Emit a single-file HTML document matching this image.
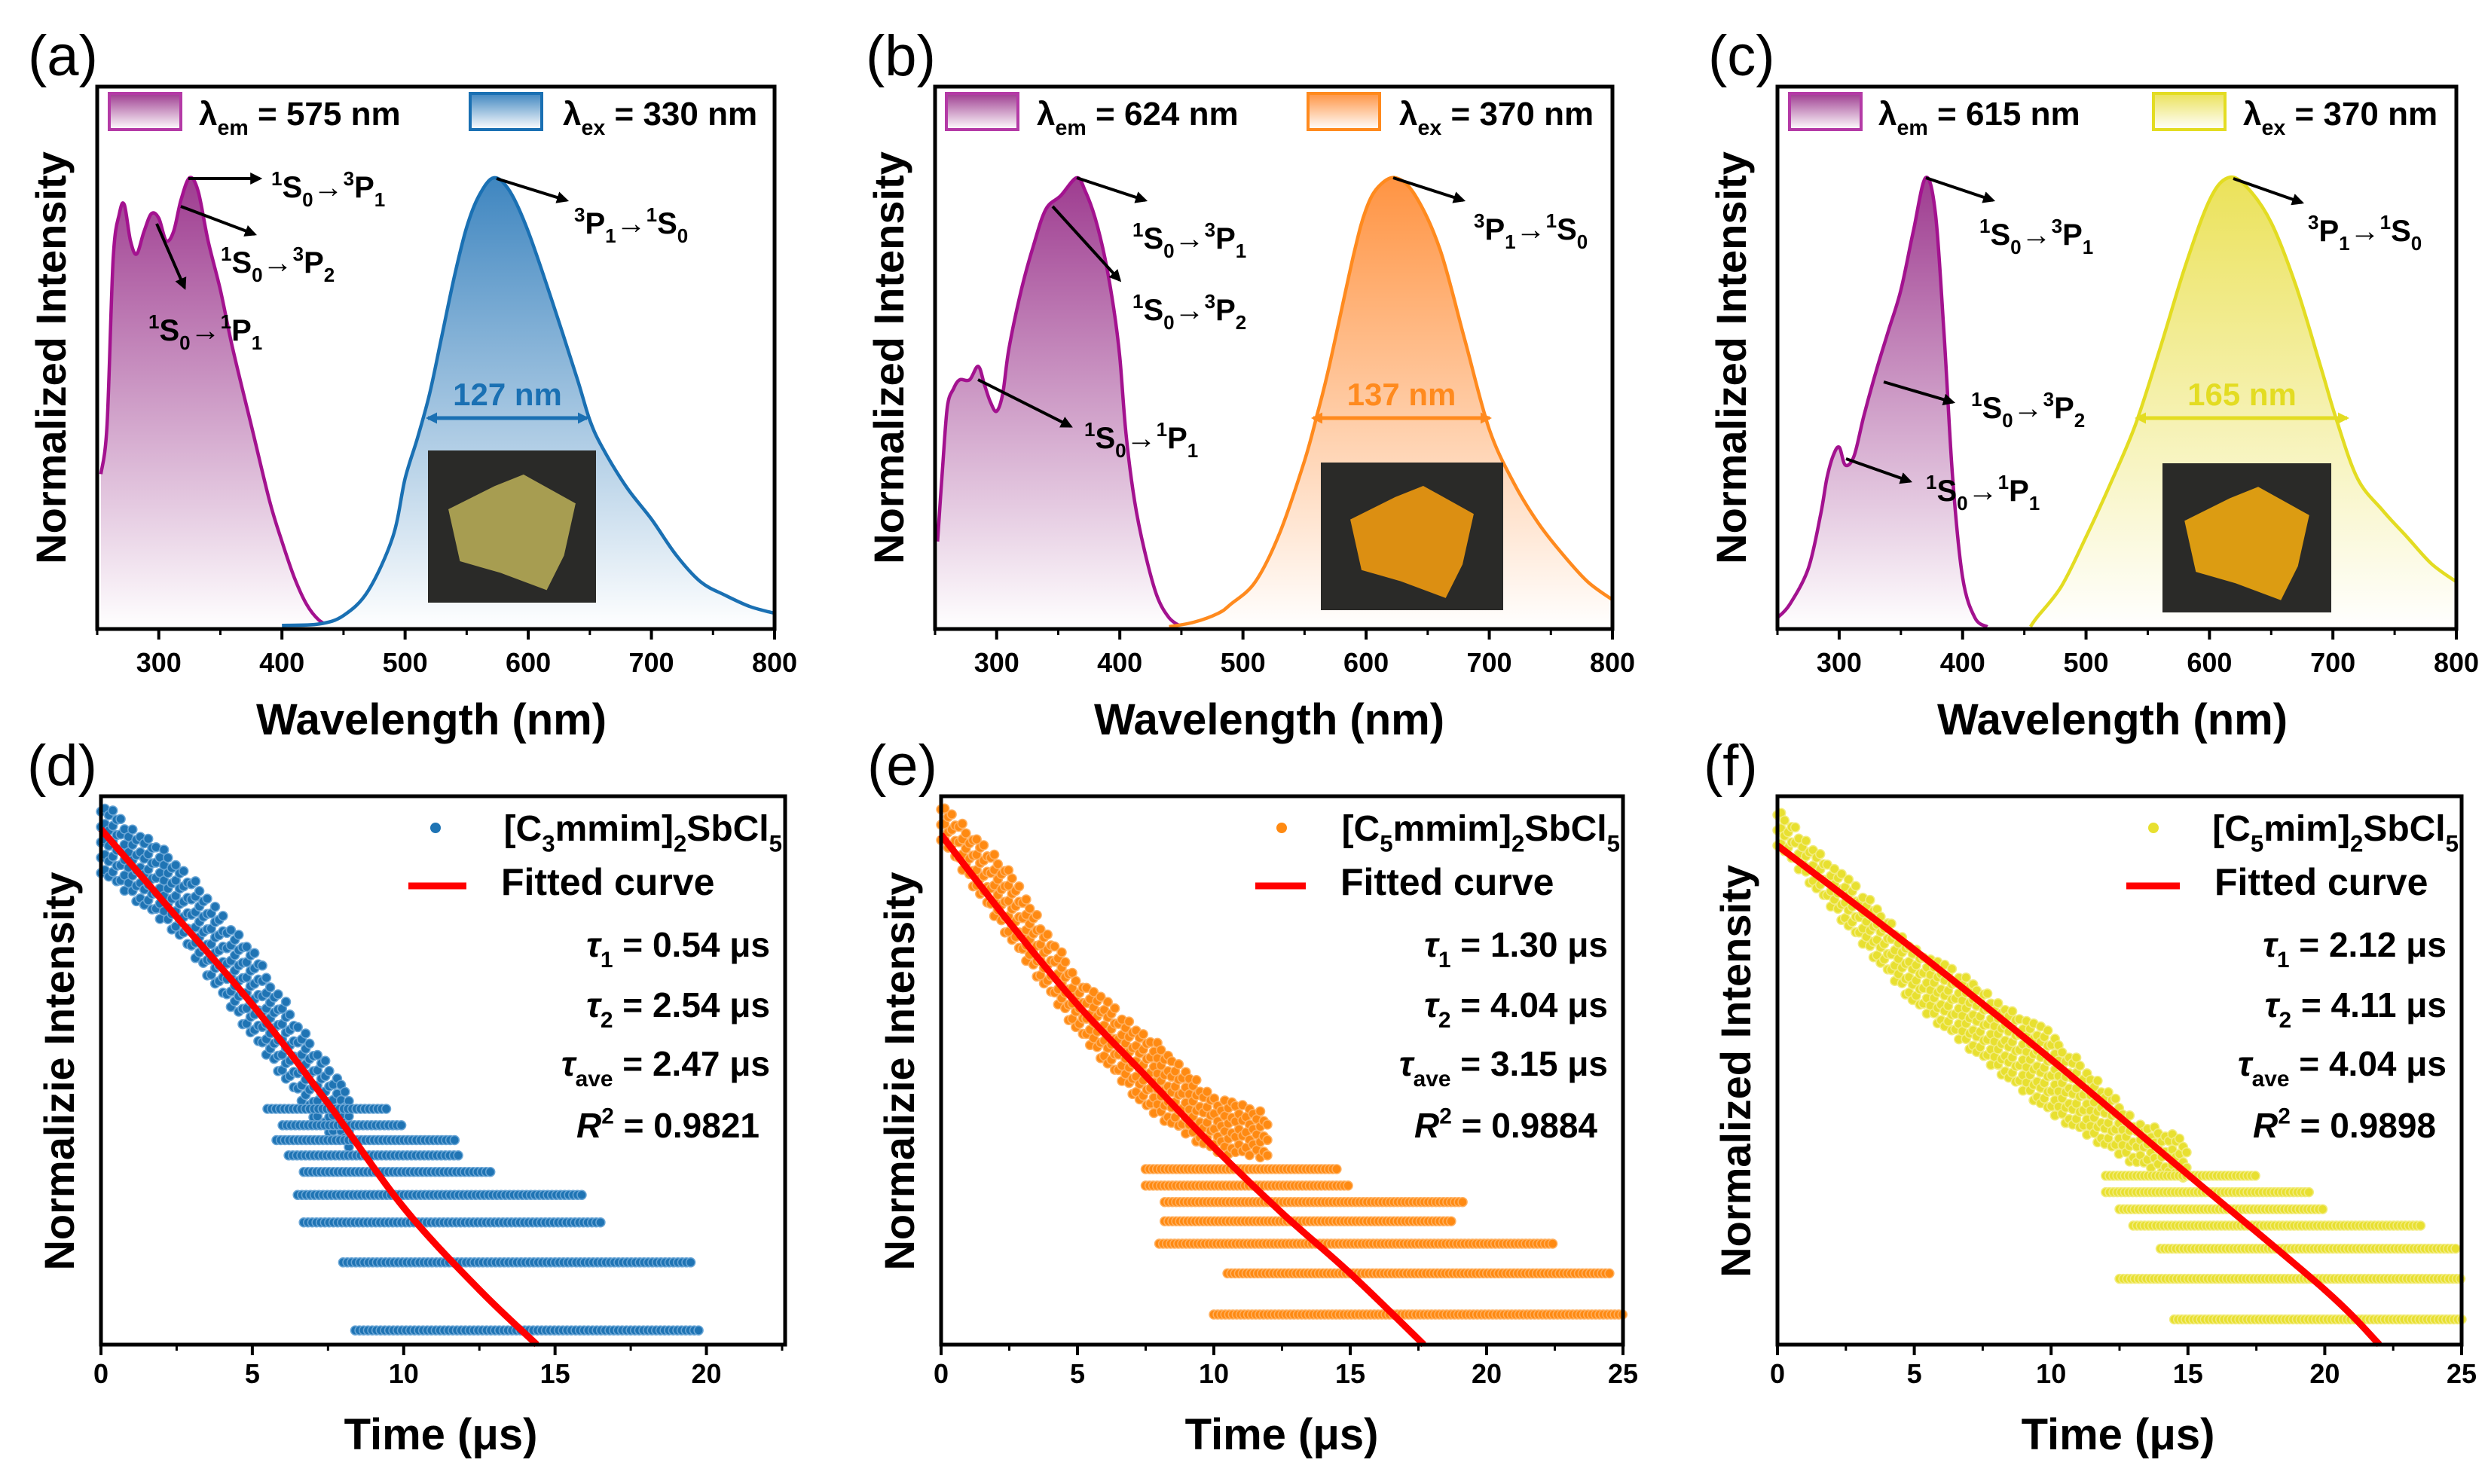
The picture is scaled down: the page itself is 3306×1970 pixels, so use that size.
<!DOCTYPE html>
<html><head><meta charset="utf-8"><style>
html,body{margin:0;padding:0;background:#fff;}
svg{display:block;font-family:"Liberation Sans",Arial,sans-serif;}
</style></head><body>
<svg id="fig" xmlns="http://www.w3.org/2000/svg" width="3306" height="1970" viewBox="0 0 3306 1970">
<defs>
<linearGradient id="gPur" gradientUnits="userSpaceOnUse" x1="0" y1="236" x2="0" y2="835"><stop offset="0" stop-color="#9e3c90"/><stop offset="1" stop-color="#ffffff"/></linearGradient>
<linearGradient id="gBlu" gradientUnits="userSpaceOnUse" x1="0" y1="236" x2="0" y2="835"><stop offset="0" stop-color="#3f86c0"/><stop offset="1" stop-color="#ffffff"/></linearGradient>
<linearGradient id="gOra" gradientUnits="userSpaceOnUse" x1="0" y1="236" x2="0" y2="835"><stop offset="0" stop-color="#ff9443"/><stop offset="1" stop-color="#ffffff"/></linearGradient>
<linearGradient id="gYel" gradientUnits="userSpaceOnUse" x1="0" y1="236" x2="0" y2="835"><stop offset="0" stop-color="#ebe25a"/><stop offset="1" stop-color="#ffffff"/></linearGradient>
<linearGradient id="lPur" x1="0" y1="0" x2="0" y2="1"><stop offset="0" stop-color="#9e3c90"/><stop offset="1" stop-color="#ffffff"/></linearGradient>
<linearGradient id="lBlu" x1="0" y1="0" x2="0" y2="1"><stop offset="0" stop-color="#3f86c0"/><stop offset="1" stop-color="#ffffff"/></linearGradient>
<linearGradient id="lOra" x1="0" y1="0" x2="0" y2="1"><stop offset="0" stop-color="#ff9443"/><stop offset="1" stop-color="#ffffff"/></linearGradient>
<linearGradient id="lYel" x1="0" y1="0" x2="0" y2="1"><stop offset="0" stop-color="#ebe25a"/><stop offset="1" stop-color="#ffffff"/></linearGradient>
<marker id="arr" viewBox="0 0 10 10" refX="8" refY="5" markerWidth="4" markerHeight="4" orient="auto"><path d="M0,0 L10,5 L0,10 z" fill="#000"/></marker>
<marker id="arrB" viewBox="0 0 10 10" refX="8" refY="5" markerWidth="3" markerHeight="3" orient="auto-start-reverse"><path d="M0,0 L10,5 L0,10 z" fill="context-stroke"/></marker>
</defs>
</svg>
<script>
// ---------- data: spectra ----------
const aEmX=[253,258,263,268,272,277,282,288,294,300,306,312,318,325,332,340,350,360,375,390,400,410,420,430,440];
const aEmY=[0.34,0.45,0.82,0.92,0.94,0.86,0.83,0.88,0.92,0.91,0.86,0.88,0.95,1.0,0.97,0.86,0.75,0.62,0.45,0.28,0.19,0.11,0.05,0.015,0.0];
const aExX=[400,430,450,470,490,500,510,520,530,540,550,560,572,585,600,620,640,650,660,680,700,720,740,760,780,800];
const aExY=[0.003,0.006,0.025,0.08,0.2,0.33,0.42,0.52,0.65,0.78,0.89,0.96,1.0,0.97,0.88,0.72,0.55,0.46,0.4,0.31,0.24,0.16,0.1,0.07,0.045,0.03];
const bEmX=[252,256,260,265,270,278,285,290,295,300,305,310,320,330,340,352,365,372,380,388,395,400,405,412,420,430,440,450];
const bEmY=[0.19,0.35,0.49,0.53,0.55,0.55,0.58,0.54,0.5,0.48,0.52,0.62,0.75,0.85,0.93,0.96,1.0,0.97,0.91,0.82,0.71,0.6,0.43,0.28,0.17,0.07,0.02,0.0];
const bExX=[440,460,480,490,510,530,550,560,570,590,600,610,624,640,660,680,700,720,740,760,780,800];
const bExY=[0.0,0.01,0.03,0.05,0.1,0.21,0.37,0.47,0.58,0.83,0.93,0.98,1.0,0.96,0.84,0.64,0.44,0.32,0.23,0.16,0.1,0.06];
const cEmX=[250,260,275,285,290,295,300,305,312,320,330,340,350,360,370,378,385,392,400,410,420];
const cEmY=[0.02,0.05,0.13,0.25,0.33,0.38,0.40,0.36,0.38,0.47,0.57,0.66,0.75,0.88,1.0,0.92,0.65,0.33,0.11,0.02,0.0];
const cExX=[455,460,480,500,520,540,560,580,600,615,630,650,670,690,703,720,740,760,780,800];
const cExY=[0.0,0.02,0.09,0.2,0.32,0.45,0.62,0.8,0.95,1.0,0.98,0.9,0.76,0.58,0.46,0.33,0.26,0.2,0.14,0.1];
// ---------- data: decay (d) ----------
const dFitT=[0,2.5,5,7.5,10,12.5,14.4];
const dFitV=[0.94,0.78,0.62,0.44,0.25,0.1,0.0];
const dBandT=[0,2.5,5,7.5,8.2];
const dBandHi=[0.99,0.89,0.72,0.51,0.47];
const dBandLo=[0.86,0.75,0.56,0.38,0.36];
const dRowV=[0.026,0.15,0.223,0.273,0.315,0.345,0.373,0.40,0.43];
const dRowS=[8.4,8.0,6.7,6.5,6.7,6.2,5.8,6.0,5.5];
const dRowE=[19.8,19.6,16.6,15.9,12.9,11.8,11.8,10.0,9.5];
// ---------- data: decay (e) ----------
const eFitT=[0,2.5,5,7.5,10,12.5,15,17.7];
const eFitV=[0.93,0.77,0.62,0.49,0.36,0.24,0.13,0.0];
const eBandT=[0,2.5,5,7.5,10,12];
const eBandHi=[0.99,0.87,0.67,0.57,0.46,0.42];
const eBandLo=[0.92,0.74,0.57,0.43,0.35,0.34];
const eRowV=[0.055,0.13,0.184,0.225,0.26,0.29,0.32];
const eRowS=[10.0,10.5,8.0,8.2,8.2,7.5,7.5];
const eRowE=[25.0,24.5,22.5,18.8,19.2,15.0,14.5];
// ---------- data: decay (f) ----------
const fFitT=[0,5,10,15,20,22];
const fFitV=[0.91,0.72,0.52,0.31,0.1,0.0];
const fBandT=[0,5,10,13,15];
const fBandHi=[0.98,0.73,0.57,0.42,0.37];
const fBandLo=[0.91,0.62,0.42,0.33,0.30];
const fRowV=[0.046,0.12,0.175,0.217,0.247,0.278,0.308];
const fRowS=[14.5,12.5,14.0,13.0,12.5,12.0,12.0];
const fRowE=[25.0,25.0,24.8,23.5,20.0,19.5,17.5];
// ---------- ticks ----------
const wlMajor=[300,400,500,600,700,800];
const wlMinor=[250,350,450,550,650,750];
const tMajorD=[0,5,10,15,20];
const tMajorEF=[0,5,10,15,20,25];

const NS='http://www.w3.org/2000/svg';
const svg=document.getElementById('fig');
function mk(tag,attrs,parent){const e=document.createElementNS(NS,tag);for(const k in attrs)e.setAttribute(k,attrs[k]);(parent||svg).appendChild(e);return e;}
function smooth(pts){let d='M'+pts[0][0].toFixed(1)+','+pts[0][1].toFixed(1);for(let i=0;i<pts.length-1;i++){const p0=pts[i-1]||pts[i],p1=pts[i],p2=pts[i+1],p3=pts[i+2]||p2;const c1x=p1[0]+(p2[0]-p0[0])/6,c1y=p1[1]+(p2[1]-p0[1])/6,c2x=p2[0]-(p3[0]-p1[0])/6,c2y=p2[1]-(p3[1]-p1[1])/6;d+=' C'+c1x.toFixed(1)+','+c1y.toFixed(1)+' '+c2x.toFixed(1)+','+c2y.toFixed(1)+' '+p2[0].toFixed(1)+','+p2[1].toFixed(1);}return d;}
function interp(xs,ys,x){if(x<=xs[0])return ys[0];for(let i=0;i<xs.length-1;i++){if(x<=xs[i+1]){const f=(x-xs[i])/(xs[i+1]-xs[i]);return ys[i]+f*(ys[i+1]-ys[i]);}}return ys[ys.length-1];}

function rich(x,y,size,parts,name,opts){
  opts=opts||{};
  const t=mk('text',{x:x,y:y,'font-size':size,'font-weight':opts.weight||'bold',fill:opts.fill||'#000','text-anchor':opts.anchor||'start'});
  
  
  let cur=0;
  parts.forEach(p=>{
    const s=mk('tspan',{},t);
    let target=0,fs=size;
    if(p[1]==='sub'){target=size*0.3;fs=size*0.65;}
    if(p[1]==='sup'){target=-size*0.4;fs=size*0.65;}
    s.setAttribute('font-size',fs);
    s.setAttribute('dy',(target-cur).toFixed(1));
    if(p[2])s.setAttribute('font-style','italic');
    cur=target;
    s.textContent=p[0];
  });
  return t;
}

const TOP=115,BOT=835,V0=832,V1=236;
function specPanel(cfg){
  const g=mk('g',{});
  
  
  const xs=w=>cfg.left+(w-250)/550*(cfg.right-cfg.left);
  const ys=v=>V0-v*(V0-V1);
  [[cfg.emX,cfg.emY,'url(#gPur)','#a3128f','emission-curve-purple'],[cfg.exX,cfg.exY,cfg.grad,cfg.col,'excitation-curve']].forEach(s=>{
    const pts=s[0].map((w,i)=>[xs(w),ys(s[1][i])]);
    const line=smooth(pts);
    const area=mk('path',{d:line+' L'+pts[pts.length-1][0].toFixed(1)+','+BOT+' L'+pts[0][0].toFixed(1)+','+BOT+' Z',fill:s[2],stroke:'none'},g);
    
    
    const ln=mk('path',{d:line,fill:'none',stroke:s[3],'stroke-width':4.5},g);
    
    
  });
  const box=mk('rect',{x:cfg.left,y:TOP,width:cfg.right-cfg.left,height:BOT-TOP,fill:'none',stroke:'#000','stroke-width':5},g);
  
  
  wlMajor.forEach(w=>{
    const tk=mk('line',{x1:xs(w),x2:xs(w),y1:BOT,y2:BOT+14,stroke:'#000','stroke-width':4},g);
    
    
    const tl=mk('text',{x:xs(w),y:892,'font-size':36,'font-weight':'bold','text-anchor':'middle'},g);
    
    
    tl.textContent=w;
  });
  wlMinor.forEach(w=>{
    const tk=mk('line',{x1:xs(w),x2:xs(w),y1:BOT,y2:BOT+8,stroke:'#000','stroke-width':3},g);
    
    
  });
  const ph=mk('g',{},g);
  
  
  const p=cfg.photo;
  mk('rect',{x:p[0],y:p[1],width:p[2],height:p[3],fill:'#2a2a28'},ph);
  const cx=p[0]+p[2]/2,cy=p[1]+p[3]/2,r=Math.min(p[2],p[3])*0.38;
  mk('path',{d:`M${cx-r*1.1},${cy-r*0.3} L${cx-r*0.3},${cy-r*0.7} L${cx+r*0.2},${cy-r*0.9} L${cx+r*1.1},${cy-r*0.4} L${cx+r*0.9},${cy+r*0.5} L${cx+r*0.6},${cy+r*1.1} L${cx-r*0.2},${cy+r*0.8} L${cx-r*0.9},${cy+r*0.6} Z`,fill:cfg.photoCol,opacity:0.9},ph);
  const fw=mk('line',{x1:cfg.fwhm[0],x2:cfg.fwhm[1],y1:555,y2:555,stroke:cfg.col,'stroke-width':5,'marker-start':'url(#arrB)','marker-end':'url(#arrB)'},g);
  
  
  const ft=mk('text',{x:(cfg.fwhm[0]+cfg.fwhm[1])/2,y:538,'font-size':42,'font-weight':'bold','text-anchor':'middle',fill:cfg.col},g);
  
  
  ft.textContent=cfg.fwhmText;
  cfg.arrows.forEach(a=>{
    const ar=mk('line',{x1:a[0],y1:a[1],x2:a[2],y2:a[3],stroke:'#000','stroke-width':4,'marker-end':'url(#arr)'},g);
    
    
  });
  const L=cfg.leg;
  const r1=mk('rect',{x:L[0],y:124,width:95,height:48,fill:'url(#lPur)',stroke:'#b43aa6','stroke-width':4},g);
  
  
  rich(L[1],166,44,[['λ','n'],['em','sub'],[' = '+cfg.em+' nm','n']],'legend-entry-em');
  const r2=mk('rect',{x:L[2],y:124,width:95,height:48,fill:cfg.lgrad,stroke:cfg.col,'stroke-width':4},g);
  
  
  rich(L[3],166,44,[['λ','n'],['ex','sub'],[' = '+cfg.ex+' nm','n']],'legend-entry-ex');
  const yt=mk('text',{x:0,y:0,'font-size':56,'font-weight':'bold','text-anchor':'middle',transform:`translate(${cfg.left-42},475) rotate(-90)`},g);
  
  
  yt.textContent='Normalized Intensity';
  const xt=mk('text',{x:(cfg.left+cfg.right)/2-6,y:975,'font-size':58,'font-weight':'bold','text-anchor':'middle'},g);
  
  
  xt.textContent='Wavelength (nm)';
  const pl=mk('text',{x:cfg.left-92,y:100,'font-size':76},g);
  
  
  pl.textContent=cfg.label;
}
const S01=(a,b,c,d)=>[[a,'sup'],['S','n'],['0','sub'],['→','n'],[b,'sup'],[c,'n'],[d,'sub']];
specPanel({name:'panel-a',label:'(a)',left:129,right:1028,emX:aEmX,emY:aEmY,exX:aExX,exY:aExY,grad:'url(#gBlu)',lgrad:'url(#lBlu)',col:'#1a70b3',
  photo:[568,598,223,202],photoCol:'#b5aa55',fwhm:[568,779],fwhmText:'127 nm',
  arrows:[[250,237,345,237],[240,274,338,311],[208,297,245,382],[659,237,752,266]],
  leg:[145,264,624,747],em:575,ex:330});
specPanel({name:'panel-b',label:'(b)',left:1241,right:2140,emX:bEmX,emY:bEmY,exX:bExX,exY:bExY,grad:'url(#gOra)',lgrad:'url(#lOra)',col:'#ff8a1e',
  photo:[1753,614,242,196],photoCol:'#f09a10',fwhm:[1743,1977],fwhmText:'137 nm',
  arrows:[[1429,236,1520,266],[1397,274,1486,372],[1298,504,1421,566],[1849,236,1942,266]],
  leg:[1256,1376,1736,1857],em:624,ex:370});
specPanel({name:'panel-c',label:'(c)',left:2359,right:3260,emX:cEmX,emY:cEmY,exX:cExX,exY:cExY,grad:'url(#gYel)',lgrad:'url(#lYel)',col:'#e3dc22',
  photo:[2870,615,224,198],photoCol:'#f0a810',fwhm:[2836,3115],fwhmText:'165 nm',
  arrows:[[2556,236,2645,266],[2500,507,2592,534],[2450,609,2535,639],[2964,237,3055,269]],
  leg:[2375,2493,2858,2977],em:615,ex:370});
rich(360,262,40,S01('1','3','P','1'),'annotation-1s0-3p1');
rich(293,362,40,S01('1','3','P','2'),'annotation-1s0-3p2');
rich(197,452,40,S01('1','1','P','1'),'annotation-1s0-1p1');
rich(762,310,40,[['3','sup'],['P','n'],['1','sub'],['→','n'],['1','sup'],['S','n'],['0','sub']],'annotation-3p1-1s0');
rich(1503,330,40,S01('1','3','P','1'),'annotation-1s0-3p1');
rich(1503,425,40,S01('1','3','P','2'),'annotation-1s0-3p2');
rich(1439,595,40,S01('1','1','P','1'),'annotation-1s0-1p1');
rich(1956,318,40,[['3','sup'],['P','n'],['1','sub'],['→','n'],['1','sup'],['S','n'],['0','sub']],'annotation-3p1-1s0');
rich(2627,325,40,S01('1','3','P','1'),'annotation-1s0-3p1');
rich(2616,555,40,S01('1','3','P','2'),'annotation-1s0-3p2');
rich(2556,665,40,S01('1','1','P','1'),'annotation-1s0-1p1');
rich(3063,320,40,[['3','sup'],['P','n'],['1','sub'],['→','n'],['1','sup'],['S','n'],['0','sub']],'annotation-3p1-1s0');

const DT=1057,DB=1785;
const JIT=[0,0.011,0.005,0.019,0.008,0.015,0.002,0.022,0.013];
function decayPanel(c){
  const g=mk('g',{});
  
  
  const xs=t=>c.left+t/c.tmax*(c.right-c.left);
  const ys=v=>DB-v*(DB-DT);
  const dots=mk('g',{fill:c.col,stroke:c.edge,'stroke-width':1.5},g);
  
  
  const tEnd=c.bandT[c.bandT.length-1];
  let k=0;
  for(let t=0;t<=tEnd;t+=0.13){
    const hi=interp(c.bandT,c.bandHi,t),lo=interp(c.bandT,c.bandLo,t);
    const off=JIT[k%JIT.length];k++;
    for(let v=lo+off;v<=hi+1e-6;v+=0.028){
      const d=mk('circle',{cx:xs(t).toFixed(1),cy:ys(v).toFixed(1),r:6},dots);
      
      
    }
  }
  c.rowV.forEach((v,i)=>{
    for(let t=c.rowS[i];t<=c.rowE[i]+1e-6;t+=0.14){
      const d=mk('circle',{cx:xs(t).toFixed(1),cy:ys(v).toFixed(1),r:6},dots);
      
      
    }
  });
  const fit=mk('path',{d:smooth(c.fitT.map((t,i)=>[xs(t),ys(c.fitV[i])])),fill:'none',stroke:'#ff0000','stroke-width':9},g);
  
  
  const box=mk('rect',{x:c.left,y:DT,width:c.right-c.left,height:DB-DT,fill:'none',stroke:'#000','stroke-width':5},g);
  
  
  c.ticks.forEach(t=>{
    const tk=mk('line',{x1:xs(t),x2:xs(t),y1:DB,y2:DB+14,stroke:'#000','stroke-width':4},g);
    
    
    const tl=mk('text',{x:xs(t),y:1836,'font-size':36,'font-weight':'bold','text-anchor':'middle'},g);
    
    
    tl.textContent=t;
    const m=t+2.5;
    if(m<c.tmax){
      const mt=mk('line',{x1:xs(m),x2:xs(m),y1:DB,y2:DB+8,stroke:'#000','stroke-width':3},g);
      
      
    }
  });
  const ld=mk('circle',{cx:c.legDot,cy:1099,r:7,fill:c.col},g);
  
  
  rich(c.right-4,1116,48,c.comp,'legend-entry-compound',{anchor:'end'});
  const ll=mk('line',{x1:c.legLine[0],x2:c.legLine[1],y1:1176,y2:1176,stroke:'#ff0000','stroke-width':9},g);
  
  
  const lt=mk('text',{x:c.legLine[1]+46,y:1188,'font-size':50,'font-weight':'bold'},g);
  
  
  lt.textContent='Fitted curve';
  const R=c.right-20;
  rich(R,1270,46,[['τ','n',1],['1','sub'],[' = '+c.tau[0]+' μs','n']],'tau1-label',{anchor:'end'});
  rich(R,1350,46,[['τ','n',1],['2','sub'],[' = '+c.tau[1]+' μs','n']],'tau2-label',{anchor:'end'});
  rich(R,1428,46,[['τ','n',1],['ave','sub'],[' = '+c.tau[2]+' μs','n']],'tau-ave-label',{anchor:'end'});
  rich(R-14,1510,46,[['R','n',1],['2','sup'],[' = '+c.tau[3],'n']],'r-squared-label',{anchor:'end'});
  const yt=mk('text',{x:0,y:0,'font-size':56,'font-weight':'bold','text-anchor':'middle',transform:`translate(${c.left-36},1422) rotate(-90)`},g);
  
  
  yt.textContent=c.ytitle;
  const xt=mk('text',{x:c.xtX,y:1924,'font-size':58,'font-weight':'bold','text-anchor':'middle'},g);
  
  
  xt.textContent='Time (μs)';
  const pl=mk('text',{x:c.left-98,y:1042,'font-size':76},g);
  
  
  pl.textContent=c.label;
}
decayPanel({name:'panel-d',label:'(d)',left:134,right:1042,tmax:22.6,col:'#1f74b4',edge:'#6aa6d6',
  fitT:dFitT,fitV:dFitV,bandT:dBandT,bandHi:dBandHi,bandLo:dBandLo,rowV:dRowV,rowS:dRowS,rowE:dRowE,ticks:tMajorD,
  legDot:578,legLine:[542,619],comp:[['[C','n'],['3','sub'],['mmim]','n'],['2','sub'],['SbCl','n'],['5','sub']],
  tau:['0.54','2.54','2.47','0.9821'],ytitle:'Normalizie Intensity',xtX:585});
decayPanel({name:'panel-e',label:'(e)',left:1249,right:2154,tmax:25,col:'#ff8a12',edge:'#ffb060',
  fitT:eFitT,fitV:eFitV,bandT:eBandT,bandHi:eBandHi,bandLo:eBandLo,rowV:eRowV,rowS:eRowS,rowE:eRowE,ticks:tMajorEF,
  legDot:1701,legLine:[1666,1733],comp:[['[C','n'],['5','sub'],['mmim]','n'],['2','sub'],['SbCl','n'],['5','sub']],
  tau:['1.30','4.04','3.15','0.9884'],ytitle:'Normalizie Intensity',xtX:1701});
decayPanel({name:'panel-f',label:'(f)',left:2359,right:3267,tmax:25,col:'#e8e030',edge:'#f2ec80',
  fitT:fFitT,fitV:fFitV,bandT:fBandT,bandHi:fBandHi,bandLo:fBandLo,rowV:fRowV,rowS:fRowS,rowE:fRowE,ticks:tMajorEF,
  legDot:2858,legLine:[2822,2893],comp:[['[C','n'],['5','sub'],['mim]','n'],['2','sub'],['SbCl','n'],['5','sub']],
  tau:['2.12','4.11','4.04','0.9898'],ytitle:'Normalized Intensity',xtX:2811});
</script>
</body></html>
